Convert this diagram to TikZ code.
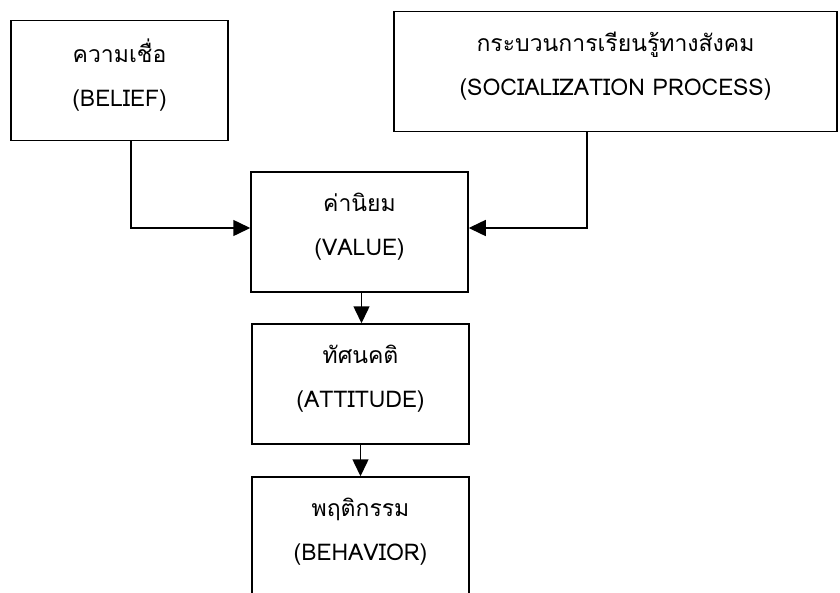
\documentclass[tikz,border=0pt]{standalone}
\usepackage{fontspec}
\newfontfamily\thaifont[Script=Thai]{Loma}
\usetikzlibrary{positioning, arrows.meta}

\begin{document}
\begin{tikzpicture}[x=1pt, y=-1pt,
        box/.style={
                draw,
                line width=1.5pt,
                minimum width=217pt,
                minimum height=120pt,
                align=center,
                text depth=15pt,
                font=\thaifont\fontsize{23}{44}\selectfont,
        },
        arr/.style={-{Triangle[length=17pt, width=16pt]}, line width=1.5pt}]
    \clip (0, 0) rectangle (840, 592);
    \fill[white] (0, 0) rectangle (840, 592);
    \node[box] (belief) at (119.5, 80.5) {ความเชื่อ\\(BELIEF)};
    \node[box, minimum width=443pt] (social) at (615.5, 71.5) {กระบวนการเรียนรู้ทางสังคม\\(SOCIALIZATION PROCESS)};
    \node[box] (value) at (359.5, 232) {ค่านิยม\\(VALUE)};
    \node[box] (attitude) at (360.5, 384) {ทัศนคติ\\(ATTITUDE)};
    \node[box] (behavior) at (360.5, 537) {พฤติกรรม\\(BEHAVIOR)};
    \draw[arr] ([xshift=11.5pt]belief.south) |- ([yshift=4pt]value.west);
    \draw[arr] ([xshift=-28.5pt]social.south) |- ([yshift=4pt]value.east);
    \draw[arr] ([xshift=2pt]value.south) -- ([xshift=1pt]attitude.north);
    \draw[arr] (attitude.south) -- (behavior.north);
\end{tikzpicture}
\end{document}
